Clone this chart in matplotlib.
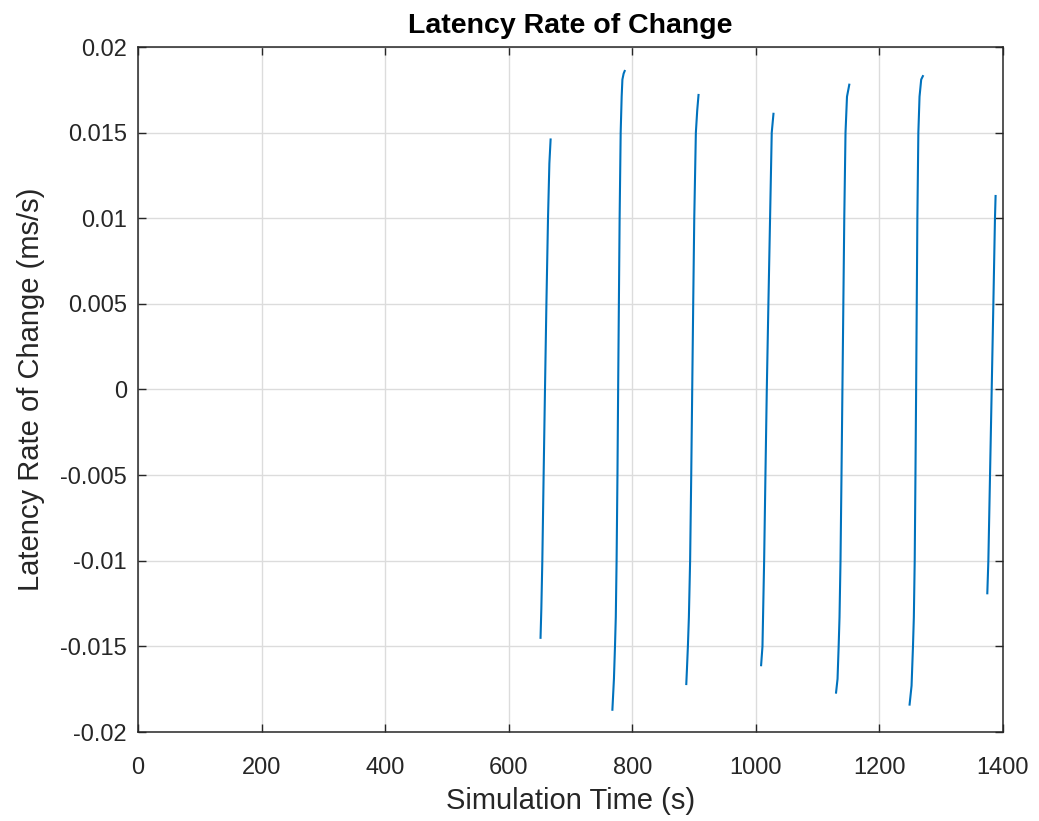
import numpy as np
import matplotlib
matplotlib.use("Agg")
import matplotlib.pyplot as plt
from matplotlib.ticker import FuncFormatter

# values, one list pair per burst
seg1_t = [651.5, 652.8, 654.4, 656.5, 658.7, 661.0, 663.6, 665.8, 667.8]
seg1_r = [-0.0145, -0.0128, -0.0100, -0.0050, 0.0000, 0.0050, 0.0100, 0.0132, 0.0146]

seg2_t = [767.8, 770.3, 772.0, 773.3, 774.6, 776.0, 777.1, 778.3, 779.5, 781.2, 782.8, 784.0, 786.0, 787.7]
seg2_r = [-0.0187, -0.0169, -0.0150, -0.0133, -0.0100, -0.0050, 0.0000, 0.0050, 0.0100, 0.0150, 0.0171, 0.0181, 0.01845, 0.0186]

seg3_t = [887.4, 888.5, 890.0, 891.6, 893.6, 895.4, 897.0, 898.6, 900.3, 902.9, 905.1, 907.2]
seg3_r = [-0.0172, -0.0163, -0.0150, -0.0133, -0.0100, -0.0050, 0.0000, 0.0050, 0.0100, 0.0150, 0.0163, 0.0172]

seg4_t = [1008.5, 1010.7, 1013.4, 1015.5, 1017.7, 1020.3, 1023.0, 1025.7, 1028.5]
seg4_r = [-0.0161, -0.0150, -0.0100, -0.0050, 0.0000, 0.0050, 0.0100, 0.0150, 0.0161]

seg5_t = [1129.8, 1132.2, 1134.0, 1135.4, 1137.0, 1138.6, 1140.1, 1141.6, 1143.1, 1145.1, 1147.5, 1151.2]
seg5_r = [-0.0177, -0.0169, -0.0150, -0.0133, -0.0100, -0.0050, 0.0000, 0.0050, 0.0100, 0.0150, 0.0171, 0.0178]

seg6_t = [1248.8, 1252.0, 1254.3, 1255.7, 1257.1, 1258.3, 1259.4, 1260.4, 1261.4, 1263.0, 1264.9, 1267.6, 1270.3]
seg6_r = [-0.0184, -0.0173, -0.0150, -0.0133, -0.0100, -0.0050, 0.0000, 0.0050, 0.0100, 0.0150, 0.0171, 0.0181, 0.0183]

seg7_t = [1374.6, 1376.3, 1379.0, 1381.7, 1384.4, 1387.0, 1388.0]
seg7_r = [-0.0119, -0.0100, -0.0050, 0.0000, 0.0050, 0.0100, 0.0113]

x_ticks = [0, 200, 400, 600, 800, 1000, 1200, 1400]
y_ticks = [-0.02, -0.015, -0.01, -0.005, 0, 0.005, 0.01, 0.015, 0.02]

segments = [(seg1_t, seg1_r), (seg2_t, seg2_r), (seg3_t, seg3_r), (seg4_t, seg4_r),
            (seg5_t, seg5_r), (seg6_t, seg6_r), (seg7_t, seg7_r)]

plt.rcParams['font.family'] = ['Liberation Sans', 'DejaVu Sans']
dark = '#262626'

fig = plt.figure(figsize=(10.39, 8.21), dpi=100)
ax = fig.add_axes([138 / 1039, 89 / 821, 865 / 1039, 685 / 821])

for t, r in segments:
    ax.plot(t, r, color='#0072BD', lw=1.5)

ax.set_xlim(0, 1400)
ax.set_ylim(-0.02, 0.02)
ax.set_xticks(x_ticks)
ax.set_yticks(y_ticks)
ax.yaxis.set_major_formatter(FuncFormatter(lambda v, p: '%g' % round(v, 4)))
ax.grid(True, color='#dcdcdc', lw=1.0)
ax.set_axisbelow(True)
ax.tick_params(direction='in', length=6, width=1.0, colors=dark, labelsize=17,
               top=True, right=True, pad=8)
ax.tick_params(axis='x', pad=18)
for s in ax.spines.values():
    s.set_color(dark)
    s.set_linewidth(1.1)

ax.set_xlabel('Simulation Time (s)', fontsize=21, color=dark, labelpad=6)
ax.set_ylabel('Latency Rate of Change (ms/s)', fontsize=21, color=dark, labelpad=11)
ax.set_title('Latency Rate of Change', fontsize=20.5, fontweight='bold', color='black', pad=10)

fig.savefig('out.png', dpi=100)
